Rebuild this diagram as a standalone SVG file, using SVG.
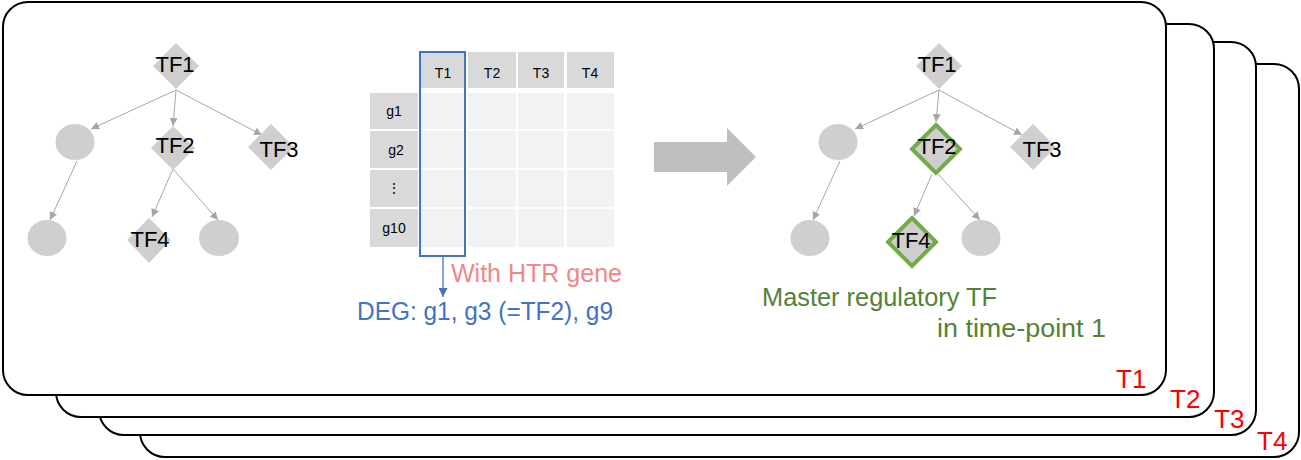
<svg xmlns="http://www.w3.org/2000/svg" width="1301" height="460" viewBox="0 0 1301 460">
<defs>
<style>
.card{fill:#ffffff;stroke:#000000;stroke-width:2}
.tlab{font-family:"Liberation Sans",Arial,sans-serif;font-size:26px;fill:#ff0000}
.dia{fill:#d0cece}
.dia-g{fill:#d0cece;stroke:#70ad47;stroke-width:4}
.circ{fill:#d0cece}
.lab{font-family:"Liberation Sans",Arial,sans-serif;font-size:22px;fill:#000000;text-anchor:middle}
.edge{stroke:#a6a6a6;stroke-width:1;fill:none;marker-end:url(#ah)}
.hdr{fill:#d9d9d9}
.cell{fill:#f2f2f2}
.ttxt{font-family:"Liberation Sans",Arial,sans-serif;font-size:14px;fill:#000000;text-anchor:middle}
.big{font-family:"Liberation Sans",Arial,sans-serif;font-size:25px}
</style>
<marker id="ah" viewBox="0 0 10 10" refX="10" refY="5" markerWidth="8" markerHeight="8" markerUnits="userSpaceOnUse" orient="auto">
<path d="M0,0 L10,5 L0,10 z" fill="#a6a6a6"/>
</marker>
<marker id="ahb" viewBox="0 0 10 10" refX="10" refY="5" markerWidth="9" markerHeight="9" markerUnits="userSpaceOnUse" orient="auto">
<path d="M0,0 L10,5 L0,10 z" fill="#4472c4"/>
</marker>
</defs>

<g id="card-T4">
<rect class="card" x="140" y="64" width="1159" height="393" rx="25" ry="25"/>
<text class="tlab" x="1257" y="450">T4</text>
</g>
<g id="card-T3">
<rect class="card" x="99" y="42" width="1157" height="393" rx="25" ry="25"/>
<text class="tlab" x="1214" y="428">T3</text>
</g>
<g id="card-T2">
<rect class="card" x="56" y="24" width="1158" height="393" rx="25" ry="25"/>
<text class="tlab" x="1170" y="408">T2</text>
</g>
<g id="card-T1">
<rect class="card" x="3" y="2" width="1163" height="393" rx="25" ry="25"/>
<text class="tlab" x="1116" y="388">T1</text>
</g>

<g id="connectors">
<line class="edge" x1="176" y1="90" x2="91" y2="129"/>
<line class="edge" x1="176" y1="90" x2="173" y2="126"/>
<line class="edge" x1="176" y1="90" x2="262" y2="135"/>
<line class="edge" x1="77" y1="161" x2="50" y2="220"/>
<line class="edge" x1="173" y1="169" x2="152" y2="217"/>
<line class="edge" x1="173" y1="169" x2="218" y2="220"/>

<line class="edge" x1="939" y1="90" x2="855" y2="129"/>
<line class="edge" x1="939" y1="90" x2="936" y2="122"/>
<line class="edge" x1="939" y1="90" x2="1022" y2="135"/>
<line class="edge" x1="840" y1="161" x2="813" y2="220"/>
<line class="edge" x1="932" y1="174" x2="914" y2="216"/>
<line class="edge" x1="938" y1="174" x2="980" y2="220"/>

<line x1="443" y1="256" x2="443" y2="297" stroke="#4472c4" stroke-width="1.3" marker-end="url(#ahb)"/>
</g>

<g id="tree-left">
<g id="L-TF1"><polygon class="dia" points="176,43 199,66 176,89 153,66"/><text class="lab" x="175" y="72">TF1</text></g>
<g id="L-c1"><ellipse class="circ" cx="75" cy="142" rx="19.5" ry="18"/></g>
<g id="L-TF2"><polygon class="dia" points="173,126 195,148 173,170 151,148"/><text class="lab" x="175" y="153">TF2</text></g>
<g id="L-TF3"><polygon class="dia" points="271,124 294,147 271,170 248,147"/><text class="lab" x="279" y="157">TF3</text></g>
<g id="L-c2"><ellipse class="circ" cx="47" cy="238" rx="19.5" ry="18"/></g>
<g id="L-TF4"><polygon class="dia" points="149,218 171,240 149,263 127,240"/><text class="lab" x="150" y="247">TF4</text></g>
<g id="L-c3"><ellipse class="circ" cx="219" cy="238" rx="20" ry="18"/></g>
</g>

<g id="table">
<rect class="hdr" x="419" y="52" width="46" height="36"/>
<rect class="hdr" x="468" y="52" width="48" height="36"/>
<rect class="hdr" x="518" y="52" width="46" height="36"/>
<rect class="hdr" x="567" y="52" width="47" height="36"/>
<text class="ttxt" x="443" y="78">T1</text>
<text class="ttxt" x="492" y="78">T2</text>
<text class="ttxt" x="541" y="78">T3</text>
<text class="ttxt" x="590" y="78">T4</text>

<rect class="hdr" x="370" y="93" width="48" height="36"/>
<rect class="hdr" x="370" y="131" width="48" height="37"/>
<rect class="hdr" x="370" y="170" width="48" height="37"/>
<rect class="hdr" x="370" y="209" width="48" height="38"/>
<text class="ttxt" x="394" y="116">g1</text>
<text class="ttxt" x="396" y="155">g2</text>
<text class="ttxt" x="394" y="193">⋮</text>
<text class="ttxt" x="394" y="233">g10</text>

<rect class="cell" x="419" y="93" width="46" height="36"/>
<rect class="cell" x="468" y="93" width="48" height="36"/>
<rect class="cell" x="518" y="93" width="46" height="36"/>
<rect class="cell" x="567" y="93" width="47" height="36"/>
<rect class="cell" x="419" y="131" width="46" height="37"/>
<rect class="cell" x="468" y="131" width="48" height="37"/>
<rect class="cell" x="518" y="131" width="46" height="37"/>
<rect class="cell" x="567" y="131" width="47" height="37"/>
<rect class="cell" x="419" y="170" width="46" height="37"/>
<rect class="cell" x="468" y="170" width="48" height="37"/>
<rect class="cell" x="518" y="170" width="46" height="37"/>
<rect class="cell" x="567" y="170" width="47" height="37"/>
<rect class="cell" x="419" y="209" width="46" height="38"/>
<rect class="cell" x="468" y="209" width="48" height="38"/>
<rect class="cell" x="518" y="209" width="46" height="38"/>
<rect class="cell" x="567" y="209" width="47" height="38"/>

<rect x="420" y="52" width="45" height="204" fill="none" stroke="#4472c4" stroke-width="2"/>
</g>

<g id="label-htr"><text class="big" x="451" y="282" fill="#f4868a" textLength="171" lengthAdjust="spacingAndGlyphs">With HTR gene</text></g>
<g id="label-deg"><text class="big" x="357" y="320" fill="#4472c4" textLength="256" lengthAdjust="spacingAndGlyphs">DEG: g1, g3 (=TF2), g9</text></g>

<g id="big-arrow">
<polygon points="654,142 727,142 727,128 756,157 727,186 727,172 654,172" fill="#bfbfbf"/>
</g>

<g id="tree-right">
<g id="R-TF1"><polygon class="dia" points="939,43 962,66 939,89 916,66"/><text class="lab" x="937" y="72">TF1</text></g>
<g id="R-c1"><ellipse class="circ" cx="838" cy="142" rx="19.5" ry="18"/></g>
<g id="R-TF2"><polygon class="dia-g" points="936,125 960,149 936,173 912,149"/><text class="lab" x="937" y="154">TF2</text></g>
<g id="R-TF3"><polygon class="dia" points="1033,124 1056,147 1033,170 1010,147"/><text class="lab" x="1042" y="157">TF3</text></g>
<g id="R-c2"><ellipse class="circ" cx="810" cy="238" rx="19.5" ry="18"/></g>
<g id="R-TF4"><polygon class="dia-g" points="912,218 936,242 912,266 888,242"/><text class="lab" x="911" y="248">TF4</text></g>
<g id="R-c3"><ellipse class="circ" cx="981" cy="238" rx="19.5" ry="18"/></g>
</g>

<g id="label-master">
<text class="big" x="762" y="306" fill="#548235" textLength="235" lengthAdjust="spacingAndGlyphs">Master regulatory TF</text>
<text class="big" x="937" y="337" fill="#548235" textLength="169" lengthAdjust="spacingAndGlyphs">in time-point 1</text>
</g>
</svg>
